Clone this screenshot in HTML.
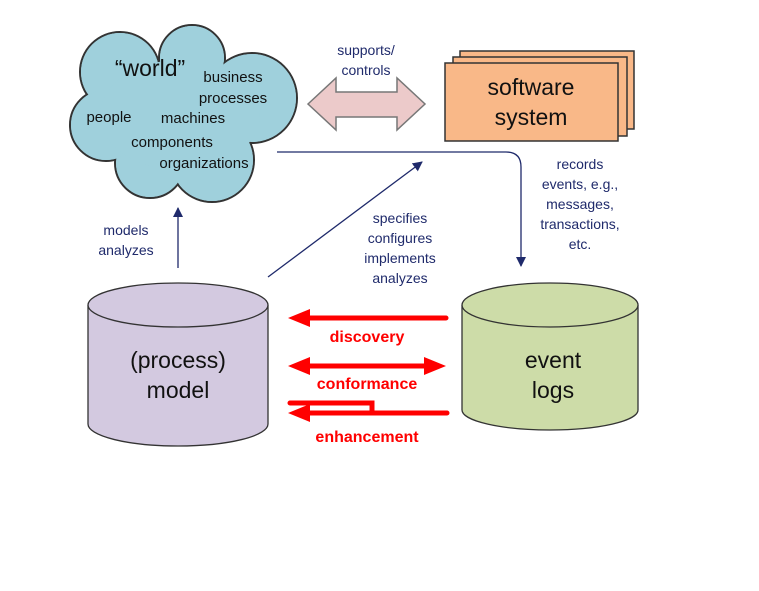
<!DOCTYPE html>
<html><head><meta charset="utf-8"><style>
html,body{margin:0;padding:0;background:#fff;}
svg{display:block;font-family:"Liberation Sans",Arial,sans-serif;}
</style></head><body>
<svg width="759" height="591" viewBox="0 0 759 591">
<defs>
<marker id="ah" markerWidth="10" markerHeight="10" refX="9" refY="5" orient="auto" markerUnits="userSpaceOnUse"><path d="M0,0 L10,5 L0,10 z" fill="#1f2a6b"/></marker>
</defs>
<!-- cloud -->
<g stroke="#333" stroke-width="2" fill="#9fd0dc">
<circle cx="120" cy="72" r="40"/><circle cx="192" cy="58" r="33"/><circle cx="252" cy="98" r="45"/>
<circle cx="212" cy="160" r="42"/><circle cx="150" cy="163" r="35"/><circle cx="106" cy="125" r="36"/>
</g>
<g fill="#9fd0dc">
<circle cx="120" cy="72" r="39"/><circle cx="192" cy="58" r="32"/><circle cx="252" cy="98" r="44"/>
<circle cx="212" cy="160" r="41"/><circle cx="150" cy="163" r="34"/><circle cx="106" cy="125" r="35"/>
<ellipse cx="180" cy="115" rx="80" ry="55"/>
</g>
<g fill="#111" font-size="15">
<text x="150" y="76" font-size="23" text-anchor="middle">“world”</text>
<text x="233" y="82" text-anchor="middle">business</text>
<text x="233" y="103" text-anchor="middle">processes</text>
<text x="109" y="122" text-anchor="middle">people</text>
<text x="193" y="123" text-anchor="middle">machines</text>
<text x="172" y="147" text-anchor="middle">components</text>
<text x="204" y="168" text-anchor="middle">organizations</text>
</g>
<!-- double arrow -->
<path d="M308,104 L336,78 L336,92 L397,92 L397,78 L425,104 L397,130 L397,117 L336,117 L336,130 Z" fill="#eccaca" stroke="#777" stroke-width="1.5"/>
<g fill="#1f2a6b" font-size="14" text-anchor="middle">
<text x="366" y="55">supports/</text><text x="366" y="75">controls</text>
</g>
<!-- software boxes -->
<rect x="460" y="51" width="174" height="78" fill="#f9b888" stroke="#333" stroke-width="1.5"/>
<rect x="453" y="57" width="174" height="79" fill="#f9b888" stroke="#333" stroke-width="1.5"/>
<rect x="445" y="63" width="173" height="78" fill="#f9b888" stroke="#333" stroke-width="1.5"/>
<g fill="#111" font-size="23" text-anchor="middle">
<text x="531" y="95">software</text><text x="531" y="125">system</text>
</g>
<!-- connectors -->
<path d="M277,152 L506,152 Q521,152 521,167 L521,266" fill="none" stroke="#1f2a6b" stroke-width="1.3" marker-end="url(#ah)"/>
<line x1="178" y1="268" x2="178" y2="208" stroke="#1f2a6b" stroke-width="1.3" marker-end="url(#ah)"/>
<line x1="268" y1="277" x2="422" y2="162" stroke="#1f2a6b" stroke-width="1.3" marker-end="url(#ah)"/>
<g fill="#1f2a6b" font-size="14" text-anchor="middle">
<text x="126" y="235">models</text><text x="126" y="255">analyzes</text>
<text x="400" y="223">specifies</text><text x="400" y="243">configures</text><text x="400" y="263">implements</text><text x="400" y="283">analyzes</text>
<text x="580" y="169">records</text><text x="580" y="189">events, e.g.,</text><text x="580" y="209">messages,</text><text x="580" y="229">transactions,</text><text x="580" y="249">etc.</text>
</g>
<!-- cylinders -->
<path d="M88,305 L88,424 A90,22 0 0 0 268,424 L268,305" fill="#d3c9e0" stroke="#333" stroke-width="1.3"/>
<ellipse cx="178" cy="305" rx="90" ry="22" fill="#d3c9e0" stroke="#333" stroke-width="1.3"/>
<path d="M462,305 L462,410 A88,20 0 0 0 638,410 L638,305" fill="#cddca8" stroke="#333" stroke-width="1.3"/>
<ellipse cx="550" cy="305" rx="88" ry="22" fill="#cddca8" stroke="#333" stroke-width="1.3"/>
<g fill="#111" font-size="23" text-anchor="middle">
<text x="178" y="368">(process)</text><text x="178" y="398">model</text>
<text x="553" y="368">event</text><text x="553" y="398">logs</text>
</g>
<!-- red arrows -->
<g stroke="red" stroke-width="5" fill="none" stroke-linecap="round">
<line x1="446" y1="318" x2="305" y2="318"/>
<line x1="305" y1="366" x2="430" y2="366"/>
<path d="M290,403 L372,403 L372,413"/>
<line x1="447" y1="413" x2="305" y2="413"/>
</g>
<g fill="red">
<path d="M288,318 L310,309 L310,327 Z"/>
<path d="M288,366 L310,357 L310,375 Z"/>
<path d="M446,366 L424,357 L424,375 Z"/>
<path d="M288,413 L310,404 L310,422 Z"/>
</g>
<g fill="red" font-size="16" font-weight="bold" text-anchor="middle">
<text x="367" y="342">discovery</text>
<text x="367" y="389">conformance</text>
<text x="367" y="442">enhancement</text>
</g>
</svg>
</body></html>
